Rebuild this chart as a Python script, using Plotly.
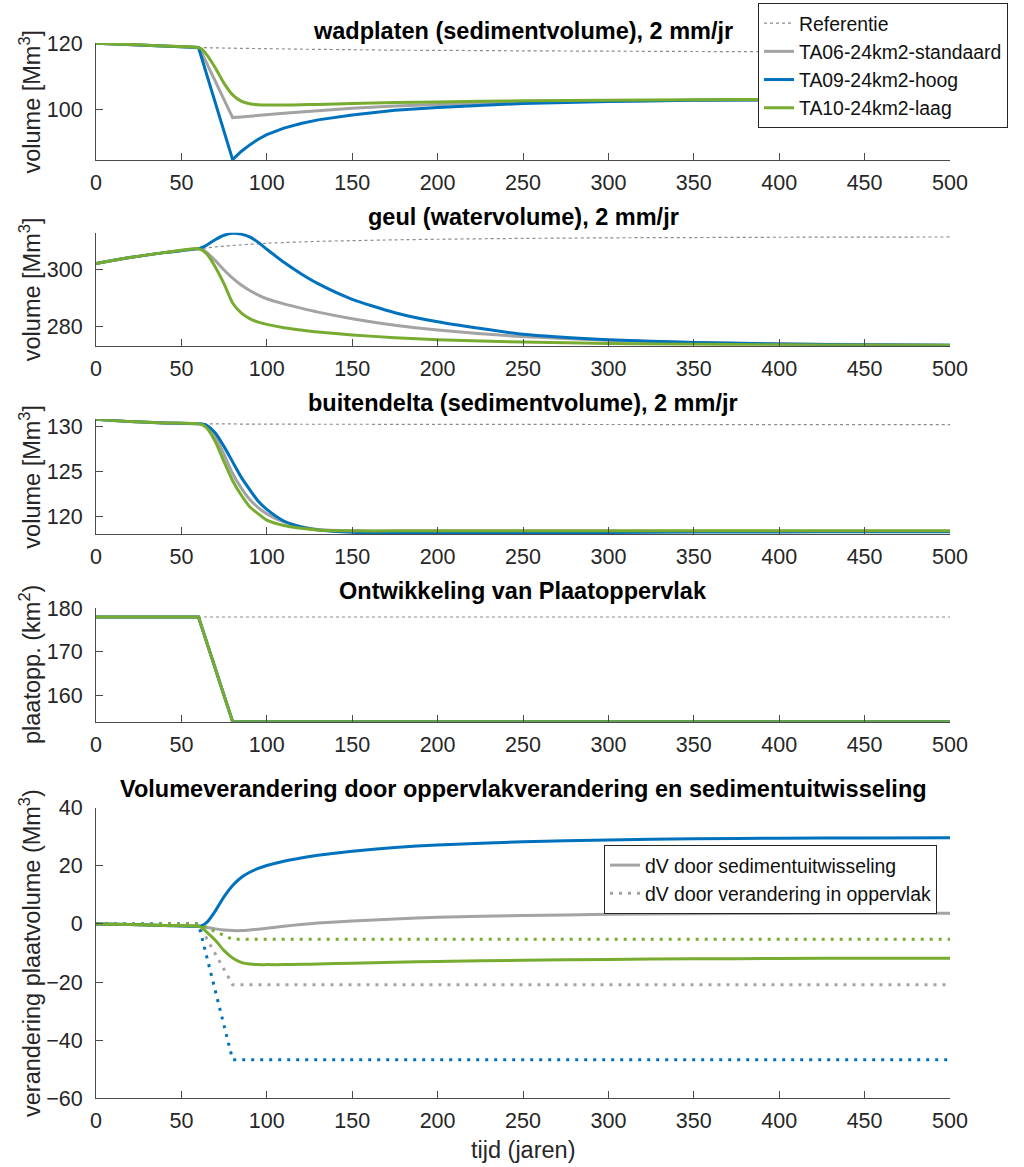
import plotly.graph_objects as go

# ---------------------------------------------------------------- data
years = [0, 20, 40, 60, 62, 65, 70, 75, 80, 85, 90, 95, 100, 110, 120, 130,
         150, 175, 200, 250, 300, 350, 400, 450, 500]
years_area = [0, 60, 80, 500]

# wadplaten (sedimentvolume) [Mm3]
wad_ref = [120.0, 119.6, 119.15, 118.7, 118.68, 118.65, 118.6, 118.55, 118.5, 118.45, 118.42, 118.4, 118.35,
           118.3, 118.2, 118.15, 118.05, 117.9, 117.85, 117.7, 117.6, 117.5, 117.4, 117.35, 117.3]
wad_std = [120.0, 119.6, 119.15, 118.7, 117.0, 113.8, 108.3, 102.8, 97.4, 97.6, 97.85, 98.05, 98.25,
           98.7, 99.1, 99.5, 100.2, 100.9, 101.4, 102.1, 102.5, 102.7, 102.85, 102.95, 103.0]
wad_high = [120.0, 119.6, 119.15, 118.7, 115.3, 110.2, 101.65, 93.1, 84.6, 87.1, 89.1, 90.8, 92.2,
            94.2, 95.6, 96.7, 98.2, 99.6, 100.5, 101.7, 102.3, 102.65, 102.85, 102.95, 103.0]
wad_low = [120.0, 119.6, 119.15, 118.7, 118.2, 116.4, 112.4, 107.8, 104.3, 102.4, 101.6, 101.3, 101.2,
           101.2, 101.3, 101.4, 101.7, 101.95, 102.15, 102.5, 102.7, 102.85, 102.95, 103.0, 103.05]

# geul (watervolume) [Mm3]
geul_ref = [302.2, 304.3, 306.0, 307.4, 307.5, 307.7, 308.0, 308.3, 308.5, 308.75, 308.95, 309.1, 309.3,
            309.55, 309.75, 309.95, 310.2, 310.5, 310.7, 311.0, 311.2, 311.3, 311.4, 311.45, 311.5]
geul_std = [302.2, 304.3, 306.0, 307.4, 307.1, 306.0, 303.1, 299.9, 297.0, 294.6, 292.7, 291.1, 289.8,
            288.0, 286.5, 285.1, 282.8, 280.5, 278.8, 276.5, 275.2, 274.4, 274.0, 273.7, 273.5]
geul_high = [302.2, 304.3, 306.0, 307.4, 307.8, 308.7, 310.6, 312.1, 312.8, 312.5, 311.5, 309.6, 307.2,
             302.6, 298.6, 295.1, 289.6, 284.9, 281.7, 277.3, 275.4, 274.4, 273.9, 273.6, 273.5]
geul_low = [302.2, 304.3, 306.0, 307.4, 306.9, 305.4, 300.8, 295.0, 288.3, 284.8, 282.8, 281.6, 280.8,
            279.6, 278.8, 278.1, 277.1, 276.1, 275.4, 274.6, 274.1, 273.8, 273.6, 273.55, 273.5]

# buitendelta (sedimentvolume) [Mm3]
delta_ref = [130.85, 130.6, 130.45, 130.35, 130.35, 130.34, 130.34, 130.33, 130.33, 130.32, 130.32, 130.32,
             130.31, 130.31, 130.3, 130.3, 130.3, 130.29, 130.29, 130.28, 130.27, 130.26, 130.26, 130.25, 130.25]
delta_std = [130.85, 130.6, 130.45, 130.35, 130.3, 130.0, 128.9, 126.9, 124.8, 123.2, 121.9, 121.0, 120.3,
             119.4, 118.85, 118.55, 118.4, 118.35, 118.35, 118.35, 118.35, 118.35, 118.35, 118.35, 118.35]
delta_high = [130.85, 130.6, 130.45, 130.35, 130.33, 130.15, 129.3, 127.8, 126.1, 124.4, 123.0, 121.7, 120.8,
              119.5, 118.85, 118.5, 118.25, 118.18, 118.18, 118.2, 118.23, 118.26, 118.28, 118.3, 118.3]
delta_low = [130.85, 130.6, 130.45, 130.35, 130.25, 129.85, 128.3, 126.1, 124.0, 122.4, 121.1, 120.3, 119.6,
             119.0, 118.7, 118.5, 118.4, 118.4, 118.4, 118.4, 118.4, 118.4, 118.4, 118.4, 118.4]

# plaatoppervlak [km2]
area_ref = [178, 178, 178, 178]
area_std = [178, 178, 154, 154]
area_high = [178, 178, 154, 154]
area_low = [178, 178, 154, 154]

# verandering plaatvolume [Mm3]: door sedimentuitwisseling
dv_sed_std = [0.0, -0.2, -0.5, -0.8, -0.9, -1.2, -1.7, -2.1, -2.3, -2.3, -2.1, -1.8, -1.5,
              -0.8, -0.2, 0.3, 1.0, 1.7, 2.3, 2.9, 3.3, 3.5, 3.6, 3.7, 3.7]
dv_sed_high = [0.0, -0.2, -0.5, -0.8, -0.6, 0.6, 4.6, 9.4, 13.2, 16.0, 17.8, 19.1, 20.1,
               21.6, 22.7, 23.6, 25.0, 26.3, 27.2, 28.3, 28.9, 29.3, 29.5, 29.6, 29.7]
dv_sed_low = [0.0, -0.2, -0.5, -0.8, -1.3, -2.9, -5.7, -9.2, -11.7, -13.2, -13.8, -14.0, -14.0,
              -14.0, -13.9, -13.8, -13.5, -13.2, -12.9, -12.5, -12.2, -12.0, -11.9, -11.8, -11.8]
# ... en door verandering in oppervlak
dv_area_std = [0.0, 0.0, -20.9, -20.9]
dv_area_high = [0.0, 0.0, -46.7, -46.7]
dv_area_low = [0.0, 0.0, -5.3, -5.3]

names = ["TA06-24km2-standaard", "TA09-24km2-hoog", "TA10-24km2-laag"]
titles = ["wadplaten (sedimentvolume), 2 mm/jr",
          "geul (watervolume), 2 mm/jr",
          "buitendelta (sedimentvolume), 2 mm/jr",
          "Ontwikkeling van Plaatoppervlak",
          "Volumeverandering door oppervlakverandering en sedimentuitwisseling"]
ylabels = ["volume [Mm<sup>3</sup>]", "volume [Mm<sup>3</sup>]", "volume [Mm<sup>3</sup>]",
           "plaatopp. (km<sup>2</sup>)", "verandering plaatvolume (Mm<sup>3</sup>)"]

# ---------------------------------------------------------------- style
W, H = 1024, 1167
FONT = "Liberation Sans, Arial, Helvetica, sans-serif"
C_STD, C_HIGH, C_LOW = "#A3A3A3", "#0072BD", "#77AC30"
C_TXT = "#262626"
LW = 3

# pixel boxes of the five axes (top, bottom), their y ranges and title heights
x_left, x_right = 96, 950
boxes = [(43.1, 160.0), (232.7, 345.7), (419.3, 534.0), (608.3, 721.7), (807.7, 1098.3)]
title_y = [31, 217, 403, 591, 789]
yranges = [[84.5, 120.05], [273.3, 313.0], [118.05, 130.85], [154, 180], [-60, 40]]
ydticks = [20, 20, 5, 10, 20]

fig = go.Figure()


def add(panel, x, y, color, name=None, width=LW, dash="solid", legend=None, smooth=False):
    ax = "" if panel == 1 else str(panel)
    line = dict(color=color, width=width, dash=dash)
    if smooth:
        line.update(shape="spline", smoothing=0.6)
    fig.add_trace(go.Scatter(
        x=x, y=y, mode="lines", name=name, line=line,
        xaxis="x" + ax, yaxis="y" + ax,
        showlegend=legend is not None, legend=legend or "legend",
        hoverinfo="skip"))


REF_C, REF_W, REF_D = "#8C8C8C", 1.2, "dot"

# panel 1 carries the main legend
add(1, years, wad_ref, REF_C, "Referentie", REF_W, REF_D, legend="legend", smooth=True)
add(1, years, wad_std, C_STD, names[0], legend="legend")
add(1, years, wad_high, C_HIGH, names[1], legend="legend")
add(1, years, wad_low, C_LOW, names[2], legend="legend", smooth=True)

for p, (r, s, h, l) in zip([2, 3], [(geul_ref, geul_std, geul_high, geul_low),
                                     (delta_ref, delta_std, delta_high, delta_low)]):
    add(p, years, r, REF_C, width=REF_W, dash=REF_D, smooth=True)
    add(p, years, s, C_STD, smooth=True)
    add(p, years, h, C_HIGH, smooth=True)
    add(p, years, l, C_LOW, smooth=True)

add(4, years_area, area_ref, REF_C, width=REF_W, dash=REF_D)
add(4, years_area, area_std, C_STD)
add(4, years_area, area_high, C_HIGH)
add(4, years_area, area_low, C_LOW)

DOT = "3px,6px"
add(5, years, dv_sed_std, C_STD, "dV door sedimentuitwisseling", legend="legend2", smooth=True)
add(5, years_area, dv_area_std, C_STD, "dV door verandering in oppervlak", dash=DOT, legend="legend2")
add(5, years, dv_sed_high, C_HIGH, smooth=True)
add(5, years_area, dv_area_high, C_HIGH, dash=DOT)
add(5, years, dv_sed_low, C_LOW, smooth=True)
add(5, years_area, dv_area_low, C_LOW, dash=DOT)

LEG_FONT = dict(family=FONT, size=19.4, color="#111111")
layout = dict(
    width=W, height=H, margin=dict(l=0, r=0, t=0, b=0, autoexpand=False),
    paper_bgcolor="white", plot_bgcolor="white",
    font=dict(family=FONT, color=C_TXT, size=21.5),
    legend=dict(x=758 / W, y=1 - 3 / H, xanchor="left", yanchor="top",
                bgcolor="white", bordercolor=C_TXT, borderwidth=1,
                font=LEG_FONT, tracegroupgap=0),
    legend2=dict(x=604 / W, y=1 - 845 / H, xanchor="left", yanchor="top",
                 bgcolor="white", bordercolor=C_TXT, borderwidth=1,
                 font=LEG_FONT, tracegroupgap=0),
)

annotations = []
for i, ((top, bot), yr, dt) in enumerate(zip(boxes, yranges, ydticks), start=1):
    ax = "" if i == 1 else str(i)
    axis_common = dict(showline=True, linecolor="#4a4a4a", linewidth=1, mirror=False,
                       ticks="inside", ticklen=7, tickwidth=1, tickcolor="#4a4a4a",
                       showgrid=False, zeroline=False, automargin=False,
                       tickfont=dict(family=FONT, size=21.5, color=C_TXT))
    layout["xaxis" + ax] = dict(domain=[x_left / W, x_right / W], anchor="y" + ax,
                                range=[0, 500], tick0=0, dtick=50,
                                ticklabelstandoff=3, **axis_common)
    layout["yaxis" + ax] = dict(domain=[1 - bot / H, 1 - top / H], anchor="x" + ax,
                                range=yr, dtick=dt, tick0=0,
                                ticklabelstandoff=8, **axis_common)
    # panel title
    annotations.append(dict(text="<b>" + titles[i - 1] + "</b>", xref="paper", yref="paper",
                            x=(x_left + x_right) / 2 / W, y=1 - title_y[i - 1] / H,
                            xanchor="center", yanchor="middle", showarrow=False,
                            font=dict(family=FONT, size=23.5, color="#000000")))
    # y axis label
    annotations.append(dict(text=ylabels[i - 1], xref="paper", yref="paper",
                            x=30 / W, y=1 - (top + bot) / 2 / H, textangle=-90,
                            xanchor="center", yanchor="middle", showarrow=False,
                            font=dict(family=FONT, size=23.5, color=C_TXT)))

annotations.append(dict(text="tijd (jaren)", xref="paper", yref="paper",
                        x=(x_left + x_right) / 2 / W, y=1 - 1150 / H,
                        xanchor="center", yanchor="middle", showarrow=False,
                        font=dict(family=FONT, size=23.5, color=C_TXT)))
layout["annotations"] = annotations

fig.update_layout(**layout)
fig.write_html("out.html")
